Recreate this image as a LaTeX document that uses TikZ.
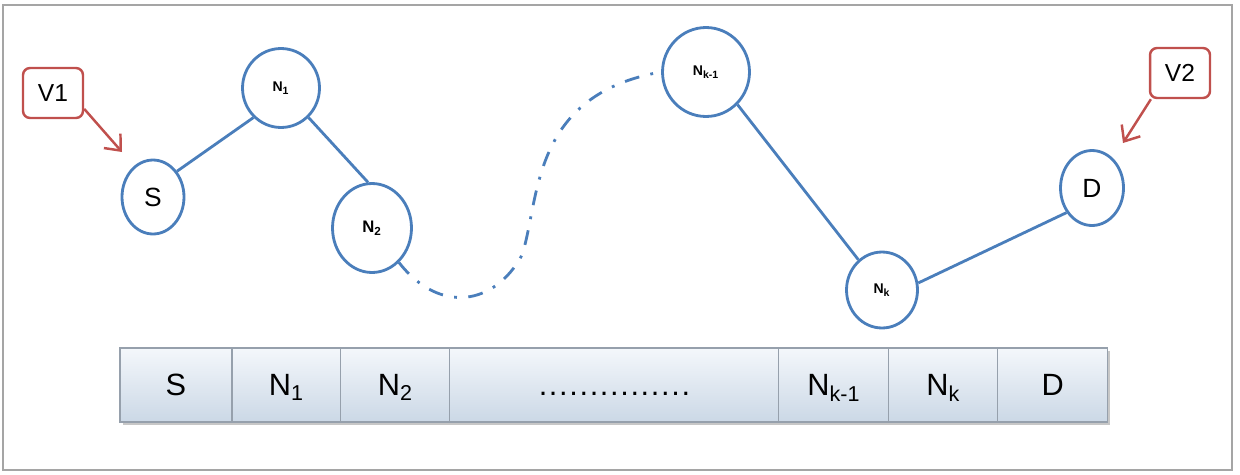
\documentclass[tikz,border=0pt]{standalone}
\usepackage{fontspec}
\setmainfont{Liberation Sans}
\usepackage{tikz}
\usetikzlibrary{arrows.meta,calc,positioning,shapes.geometric}
\definecolor{nodeblue}{RGB}{74,126,187}
\definecolor{boxred}{RGB}{192,80,77}
\definecolor{cellline}{RGB}{150,160,172}
\definecolor{celltop}{RGB}{244,247,251}
\definecolor{cellbot}{RGB}{203,216,230}
\definecolor{framegray}{RGB}{165,165,165}
\newcommand{\rowdots}{\foreach \i in {1,...,15}{\makebox[5.8pt]{.}}}
\tikzset{
    mynode/.style={ellipse,draw=nodeblue,line width=1.6pt,fill=white,inner sep=0pt,font=\bfseries\fontsize{8}{9}\selectfont},
    mybox/.style={rectangle,rounded corners=4pt,draw=boxred,line width=1.4pt,minimum width=1.2cm,minimum height=1.0cm,font=\fontsize{14}{16}\selectfont},
    mycell/.style={rectangle,draw=cellline,line width=0.6pt,top color=celltop,bottom color=cellbot,minimum height=1.48cm,outer sep=0pt,inner sep=0pt,text height=12.5pt,text depth=0pt,font=\fontsize{17.5}{20}\selectfont},
    myedge/.style={line width=1.6pt,draw=nodeblue},
    mylink/.style={line width=1.6pt,draw=nodeblue,dash pattern=on 8.5pt off 6.5pt on 1.6pt off 6.5pt},
    myarrow/.style={line width=1.4pt,draw=boxred,-{Straight Barb[length=2.6mm,width=4.4mm]}}
}
\begin{document}
\begin{tikzpicture}[x=0.02cm,y=-0.02cm]
  \useasboundingbox (0,0) rectangle (1240,474);
  \draw[framegray,line width=1.2pt] (3,5) rectangle (1232,470);
  % the route
  \node[mynode,minimum width=1.24cm,minimum height=1.48cm,font=\fontsize{15}{17}\selectfont] (S) at (153,197) {S};
  \node[mynode,minimum width=1.54cm,minimum height=1.58cm] (N1) at (281,88) {N\textsubscript{1}};
  \node[mynode,minimum width=1.58cm,minimum height=1.78cm,font=\bfseries\fontsize{9.5}{11}\selectfont] (N2) at (372,228) {N\textsubscript{2}};
  \node[mynode,minimum width=1.74cm,minimum height=1.78cm] (Nk1) at (706,72) {N\textsubscript{k-1}};
  \node[mynode,minimum width=1.42cm,minimum height=1.52cm] (Nk) at (882,290) {N\textsubscript{k}};
  \node[mynode,minimum width=1.26cm,minimum height=1.50cm,font=\fontsize{15}{17}\selectfont] (D) at (1092,188) {D};
  \draw[myedge] (S.47) -- (N1.227);
  \draw[myedge] (N1.-47) -- (N2.95);
  \draw[myedge] (Nk1.-46) -- (Nk.128);
  \draw[myedge] (Nk.11) -- (D.224);
  \draw[mylink] (N2.-52) .. controls (440,315) and (495,305) .. (522,255)
    .. controls (540,200) and (530,95) .. (Nk1.west);
  % the two markers
  \node[mybox] (V1) at (53,93) {V1};
  \node[mybox] (V2) at (1180,73) {V2};
  \coordinate (V1tip) at (122,152);
  \coordinate (V2tip) at (1123,143);
  \draw[myarrow] (V1.-27) -- (V1tip);
  \draw[myarrow] (V2.222) -- (V2tip);
  % the header
  \fill[black!22] (123,351) rectangle (1110,425);
  \node[mycell,minimum width=2.24cm,anchor=north west] (c1) at (120,348) {S};
  \node[mycell,minimum width=2.18cm,right=0pt of c1] (c2) {N\textsubscript{1}};
  \node[mycell,minimum width=2.18cm,right=0pt of c2] (c3) {N\textsubscript{2}};
  \node[mycell,minimum width=6.58cm,right=0pt of c3] (c4) {\rowdots};
  \node[mycell,minimum width=2.20cm,right=0pt of c4] (c5) {N\textsubscript{k-1}};
  \node[mycell,minimum width=2.18cm,right=0pt of c5] (c6) {N\textsubscript{k}};
  \node[mycell,minimum width=2.20cm,right=0pt of c6] (c7) {D};
\end{tikzpicture}
\end{document}
